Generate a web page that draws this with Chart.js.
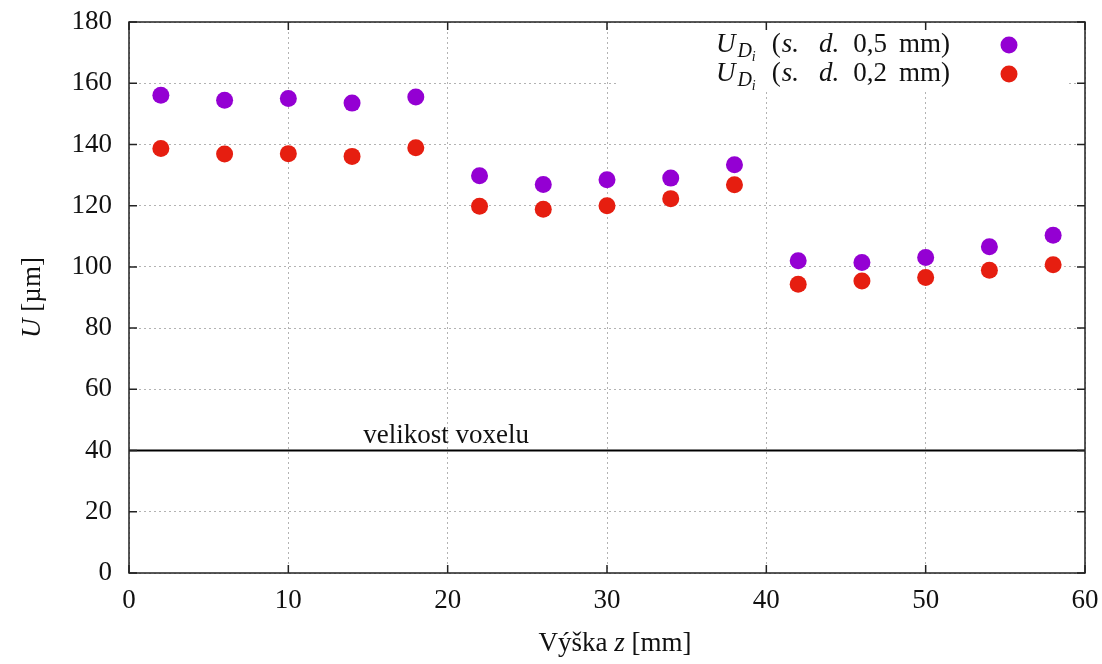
<!DOCTYPE html>
<html>
<head>
<meta charset="utf-8">
<script src="https://cdn.jsdelivr.net/npm/chart.js@4/dist/chart.umd.min.js"></script>
<style>
  html, body { margin: 0; padding: 0; background: #fff; }
  #wrap { width: 1102px; height: 664px; }
</style>
</head>
<body>
<div id="wrap"><canvas id="chart" width="1102" height="664"></canvas></div>
<script>
// heights z [mm] and measured U [um]
const zPositions = [2, 6, 10, 14, 18, 22, 26, 30, 34, 38, 42, 46, 50, 54, 58];
const u05 = [156.1, 154.4, 155.0, 153.5, 155.5, 129.8, 126.9, 128.5, 129.0, 133.4, 102.0, 101.4, 103.1, 106.6, 110.3];
const u02 = [138.7, 136.9, 137.0, 136.1, 138.9, 119.8, 118.8, 120.0, 122.3, 126.8, 94.3, 95.4, 96.5, 98.9, 100.7];
const voxelSize = 40;
const voxelLabel = "velikost voxelu";
const xRange = [0, 60];
const yRange = [0, 180];
const xStep = 10;
const yStep = 20;

const PURPLE = "#9400d3";
const RED = "#e61e10";
const SERIF = "'Liberation Serif', 'Times New Roman', serif";
const FS = 27;

const toPoints = (vals) => vals.map((v, i) => ({ x: zPositions[i], y: v }));

// draws a run of text pieces (mixed italic / subscripts)
function drawRich(ctx, segs, x, baseline, align) {
  let total = 0;
  segs.forEach(s => {
    ctx.font = (s.it ? "italic " : "") + (s.size || FS) + "px " + SERIF;
    s.w = ctx.measureText(s.t).width + (s.gap || 0);
    total += s.w;
  });
  let cx = align === "right" ? x - total : align === "center" ? x - total / 2 : x;
  ctx.textAlign = "left";
  ctx.textBaseline = "alphabetic";
  segs.forEach(s => {
    ctx.font = (s.it ? "italic " : "") + (s.size || FS) + "px " + SERIF;
    ctx.fillText(s.t, cx, baseline + (s.dy || 0));
    cx += s.w;
  });
}

const legendSegs = (label) => [
  { t: "U", it: true, gap: 2 },
  { t: "D", it: true, size: 20, dy: 5 },
  { t: "i", it: true, size: 14, dy: 9, gap: 16 },
  { t: "(", gap: 1 },
  { t: "s.", it: true, gap: 20 },
  { t: "d.", it: true, gap: 14 },
  { t: label.split(" ")[0], gap: 12 },
  { t: label.split(" ")[1] + ")" }
];

const noOverhang = (s) => {
  s.paddingTop = 0; s.paddingBottom = 0; s.paddingLeft = 0; s.paddingRight = 0;
};

const gnuplotLook = {
  id: "gnuplotLook",
  beforeDatasetsDraw(chart) {
    // white legend box over the grid
    const { ctx, chartArea } = chart;
    ctx.save();
    ctx.fillStyle = "#fff";
    ctx.fillRect(618, chartArea.top + 1, 449, 67);
    ctx.restore();
  },
  afterDraw(chart) {
    const { ctx, chartArea: { left, right, top, bottom }, scales: { x, y } } = chart;
    ctx.save();
    ctx.strokeStyle = "#222";
    ctx.lineWidth = 1.5;
    ctx.strokeRect(left, top, right - left, bottom - top);

    // inward mirrored ticks
    ctx.beginPath();
    x.ticks.forEach(t => {
      const px = x.getPixelForValue(t.value);
      ctx.moveTo(px, bottom); ctx.lineTo(px, bottom - 8);
      ctx.moveTo(px, top); ctx.lineTo(px, top + 8);
    });
    y.ticks.forEach(t => {
      const py = y.getPixelForValue(t.value);
      ctx.moveTo(left, py); ctx.lineTo(left + 8, py);
      ctx.moveTo(right, py); ctx.lineTo(right - 8, py);
    });
    ctx.stroke();

    ctx.fillStyle = "#111";
    // voxel label
    ctx.font = FS + "px " + SERIF;
    ctx.textAlign = "center";
    ctx.textBaseline = "alphabetic";
    ctx.fillText(voxelLabel, x.getPixelForValue(19.9), y.getPixelForValue(voxelSize) - 8);

    // axis titles
    drawRich(ctx, [{ t: "Výška " }, { t: "z", it: true }, { t: " [mm]" }], (left + right) / 2 + 8, 651, "center");
    ctx.save();
    ctx.translate(40, (top + bottom) / 2);
    ctx.rotate(-Math.PI / 2);
    drawRich(ctx, [{ t: "U", it: true }, { t: " [µm]" }], 0, 0, "center");
    ctx.restore();

    // legend
    const rows = [
      { label: "0,5 mm", color: PURPLE, base: 52, my: 45 },
      { label: "0,2 mm", color: RED, base: 81, my: 74 }
    ];
    rows.forEach(r => {
      ctx.fillStyle = "#111";
      drawRich(ctx, legendSegs(r.label), 950, r.base, "right");
      ctx.fillStyle = r.color;
      ctx.beginPath();
      ctx.arc(1009, r.my, 8.5, 0, Math.PI * 2);
      ctx.fill();
    });
    ctx.restore();
  }
};

new Chart(document.getElementById("chart"), {
  type: "scatter",
  data: {
    datasets: [
      {
        label: "U_Di (s. d. 0,5 mm)",
        data: toPoints(u05),
        backgroundColor: PURPLE,
        borderWidth: 0,
        pointRadius: 8.5
      },
      {
        label: "U_Di (s. d. 0,2 mm)",
        data: toPoints(u02),
        backgroundColor: RED,
        borderWidth: 0,
        pointRadius: 8.5
      },
      {
        type: "line",
        label: voxelLabel,
        data: [{ x: xRange[0], y: voxelSize }, { x: xRange[1], y: voxelSize }],
        borderColor: "#000",
        borderWidth: 2,
        pointRadius: 0
      }
    ]
  },
  plugins: [gnuplotLook],
  options: {
    responsive: false,
    animation: false,
    layout: { padding: { top: 22, right: 17, left: 0, bottom: 0 } },
    plugins: { legend: { display: false }, tooltip: { enabled: false } },
    scales: {
      x: {
        type: "linear",
        min: xRange[0],
        max: xRange[1],
        ticks: { stepSize: xStep, color: "#111", font: { family: SERIF, size: FS }, padding: 12, maxRotation: 0 },
        grid: { drawTicks: false, color: "#b3b3b3", lineWidth: 1 },
        border: { display: false, dash: [2, 3] },
        afterFit: (s) => { s.height = 91; noOverhang(s); }
      },
      y: {
        min: yRange[0],
        max: yRange[1],
        ticks: { stepSize: yStep, color: "#111", font: { family: SERIF, size: FS }, padding: 17 },
        grid: { drawTicks: false, color: "#b3b3b3", lineWidth: 1 },
        border: { display: false, dash: [2, 3] },
        afterFit: (s) => { s.width = 129; noOverhang(s); }
      }
    }
  }
});
</script>
</body>
</html>
